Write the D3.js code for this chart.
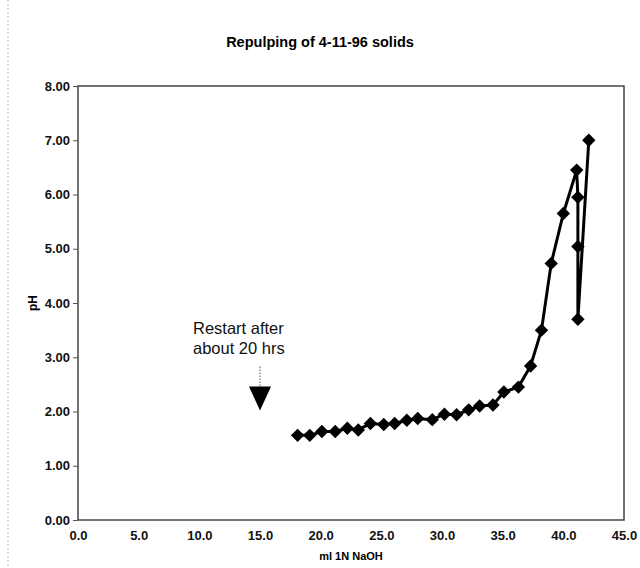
<!DOCTYPE html>
<html>
<head>
<meta charset="utf-8">
<script src="https://cdn.jsdelivr.net/npm/d3@7"></script>
<style>
  body { margin: 0; background: #fff; }
  svg { display: block; font-family: "Liberation Sans", Arial, Helvetica, sans-serif; }
</style>
</head>
<body>
<div id="chart"></div>
<script>
// ml of 1N NaOH added, and the pH read after each addition
const naoh = [18.1, 19.1, 20.1, 21.2, 22.2, 23.1, 24.1, 25.2, 26.1, 27.1,
              28.0, 29.2, 30.2, 31.2, 32.2, 33.1, 34.2, 35.1, 36.3, 37.3,
              38.2, 39.0, 40.0, 41.1, 41.2, 41.2, 41.2, 42.1];
const ph = [1.56, 1.56, 1.63, 1.63, 1.69, 1.66, 1.78, 1.76, 1.78, 1.84,
            1.87, 1.85, 1.95, 1.94, 2.03, 2.10, 2.12, 2.36, 2.45, 2.84,
            3.50, 4.73, 5.65, 6.45, 5.95, 5.04, 3.70, 7.00];

const xTicks = [0, 5, 10, 15, 20, 25, 30, 35, 40, 45];
const yTicks = [0, 1, 2, 3, 4, 5, 6, 7, 8];

// where the "restart" arrow points
const restart = { x: 15.0, y: 2.0, label: ["Restart after", "about 20 hrs"] };

const data = naoh.map((x, i) => ({ x: x, y: ph[i] }));

const width = 640,
    height = 568,
    margin = ({ top: 86, right: 16, bottom: 48, left: 78 });

let svg = d3.select("#chart")
    .append("svg")
    .attr("width", width)
    .attr("height", height);

// scanned page edge
svg.append("line")
    .attr("x1", 8).attr("x2", 8)
    .attr("y1", 0).attr("y2", height)
    .attr("stroke", "#bbb")
    .attr("stroke-dasharray", "2,2");

const x = d3.scaleLinear()
    .domain([0, 45])
    .range([margin.left, width - margin.right]);

const y = d3.scaleLinear()
    .domain([0, 8])
    .range([height - margin.bottom, margin.top]);

svg.append("text")
    .attr("x", width / 2)
    .attr("y", 47)
    .attr("text-anchor", "middle")
    .style("font-size", "14.5px")
    .style("font-weight", "bold")
    .text("Repulping of 4-11-96 solids");

// plot frame
svg.append("rect")
    .attr("x", x(0))
    .attr("y", y(8))
    .attr("width", x(45) - x(0))
    .attr("height", y(0) - y(8))
    .attr("fill", "none")
    .attr("stroke", "#444")
    .attr("stroke-width", 1.5);

const xAxis = (g) => g
    .attr("transform", `translate(0, ${y(0)})`)
    .call(d3.axisBottom(x).tickValues(xTicks).tickFormat(d3.format(".1f")).tickSize(0).tickPadding(11))
    .call(g => g.select(".domain").remove());

const yAxis = (g) => g
    .attr("transform", `translate(${x(0)}, 0)`)
    .call(d3.axisLeft(y).tickValues(yTicks).tickFormat(d3.format(".2f")).tickSize(5).tickPadding(3))
    .call(g => g.select(".domain").remove());

svg.append("g").call(xAxis);
svg.append("g").call(yAxis);

svg.selectAll(".tick text")
    .attr("fill", "#111")
    .style("font-size", "13px")
    .style("font-weight", "bold")
    .style("font-family", "'Liberation Sans', Arial, sans-serif");
svg.selectAll(".tick line").attr("stroke", "#555");

svg.append("text")
    .attr("x", (x(0) + x(45)) / 2)
    .attr("y", 560)
    .attr("text-anchor", "middle")
    .style("font-size", "11px")
    .style("font-weight", "bold")
    .text("ml 1N NaOH");

svg.append("text")
    .attr("transform", `translate(37, ${(y(0) + y(8)) / 2}) rotate(-90)`)
    .attr("text-anchor", "middle")
    .style("font-size", "12px")
    .style("font-weight", "bold")
    .text("pH");

// annotation
const ax = x(restart.x), ay = y(restart.y);
svg.append("text")
    .attr("x", ax - 67)
    .attr("y", ay - 78)
    .style("font-size", "16.5px")
    .attr("fill", "#111")
    .selectAll("tspan")
    .data(restart.label)
    .join("tspan")
    .attr("x", ax - 67)
    .attr("dy", (d, i) => i ? 20 : 0)
    .text(d => d);

svg.append("line")
    .attr("x1", ax).attr("x2", ax)
    .attr("y1", ay - 45).attr("y2", ay - 24)
    .attr("stroke", "#555")
    .attr("stroke-dasharray", "1.5,1.5");

svg.append("path")
    .attr("d", `M${ax - 11},${ay - 25} L${ax + 11},${ay - 25} L${ax},${ay - 1} Z`)
    .attr("fill", "#000");

// line + diamond markers
const line = d3.line()
    .x(d => x(d.x))
    .y(d => y(d.y));

svg.append("path")
    .datum(data)
    .attr("d", line)
    .attr("fill", "none")
    .attr("stroke", "#000")
    .attr("stroke-width", 3)
    .attr("stroke-linejoin", "round");

svg.selectAll(".pt")
    .data(data)
    .join("path")
    .attr("class", "pt")
    .attr("transform", d => `translate(${x(d.x)}, ${y(d.y)}) rotate(45)`)
    .attr("d", d3.symbol(d3.symbolSquare, 90))
    .attr("fill", "#000");
</script>
</body>
</html>
